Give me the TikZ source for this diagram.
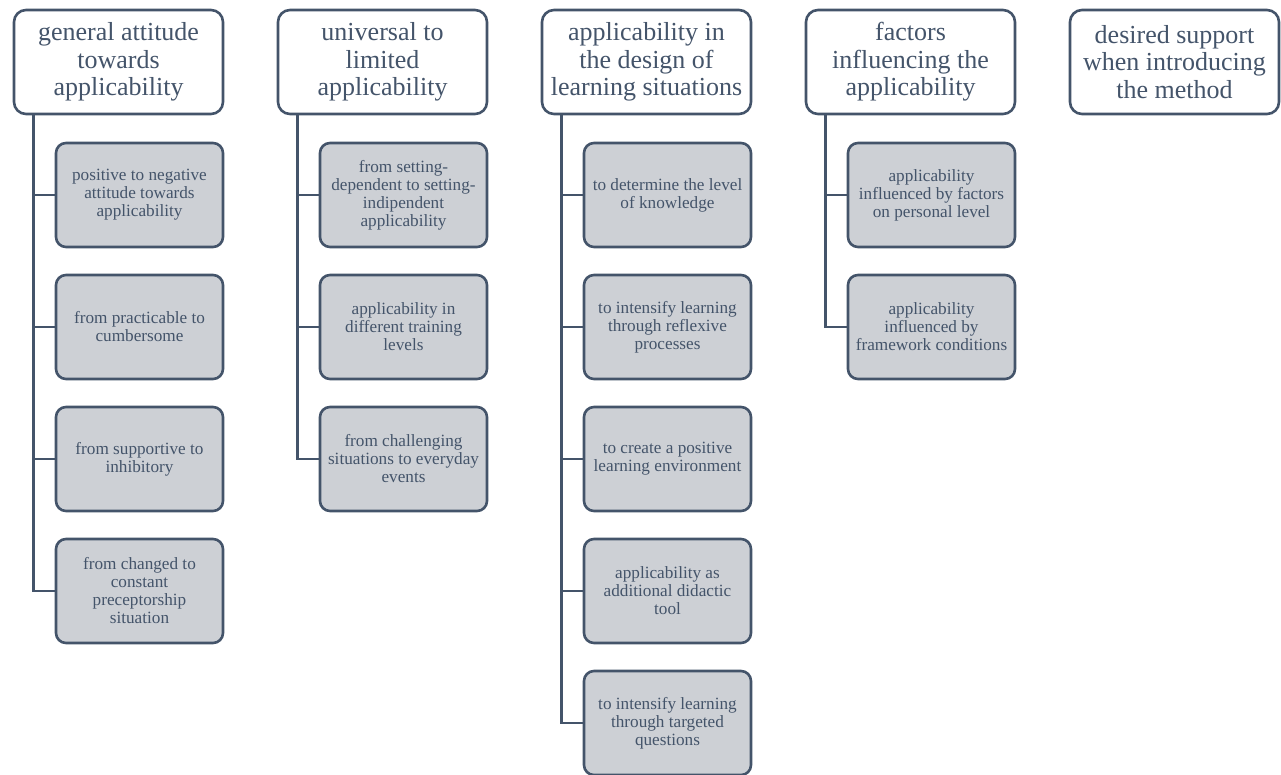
\documentclass[tikz,border=0pt]{standalone}
\usepackage{fontspec}
\setmainfont{Liberation Serif}
\usetikzlibrary{positioning}
\definecolor{slate}{HTML}{44546A}
\definecolor{boxgray}{RGB}{205,208,213}

\begin{document}
\begin{tikzpicture}[
    x=1pt, y=-1pt,
    head/.style={rectangle, rounded corners=12pt, draw=slate, line width=2.6pt, fill=white,
        text=slate, minimum width=209pt, minimum height=104pt, align=center,
        inner sep=2pt, font=\fontsize{26}{27.5}\selectfont},
    item/.style={rectangle, rounded corners=10pt, draw=slate, line width=2.6pt, fill=boxgray,
        text=slate, minimum width=167pt, minimum height=104pt, align=center,
        inner sep=2pt, font=\fontsize{17.2}{18}\selectfont},
    trunk/.style={draw=slate, line width=2.6pt}
]
\useasboundingbox (0,0) rectangle (1281,774);

% headings
\node[head] (h1) at (118.5,62) {general attitude\\towards\\applicability};
\node[head] (h2) at (382.5,62) {universal to\\limited\\applicability};
\node[head] (h3) at (646.5,62) {applicability in\\the design of\\learning situations};
\node[head] (h4) at (910.5,62) {factors\\influencing the\\applicability};
\node[head] (h5) at (1174.5,62) {desired support\\when introducing\\the method};

% column 1
\node[item] (a1) at (139.5,195) {positive to negative\\attitude towards\\applicability};
\node[item] (a2) at (139.5,327) {from practicable to\\cumbersome};
\node[item] (a3) at (139.5,459) {from supportive to\\inhibitory};
\node[item] (a4) at (139.5,591) {from changed to\\constant\\preceptorship\\situation};

% column 2
\node[item] (b1) at (403.5,195) {from setting-\\dependent to setting-\\indipendent\\applicability};
\node[item] (b2) at (403.5,327) {applicability in\\different training\\levels};
\node[item] (b3) at (403.5,459) {from challenging\\situations to everyday\\events};

% column 3
\node[item] (c1) at (667.5,195) {to determine the level\\of knowledge};
\node[item] (c2) at (667.5,327) {to intensify learning\\through reflexive\\processes};
\node[item] (c3) at (667.5,459) {to create a positive\\learning environment};
\node[item] (c4) at (667.5,591) {applicability as\\additional didactic\\tool};
\node[item] (c5) at (667.5,723) {to intensify learning\\through targeted\\questions};

% column 4
\node[item] (d1) at (931.5,195) {applicability\\influenced by factors\\on personal level};
\node[item] (d2) at (931.5,327) {applicability\\influenced by\\framework conditions};

% trunks
\draw[trunk] ([xshift=-85pt]h1.south) |- (a4.west);
\draw[trunk] ([xshift=-85pt]h1.south |- a1.west) -- (a1.west);
\draw[trunk] ([xshift=-85pt]h1.south |- a2.west) -- (a2.west);
\draw[trunk] ([xshift=-85pt]h1.south |- a3.west) -- (a3.west);

\draw[trunk] ([xshift=-85pt]h2.south) |- (b3.west);
\draw[trunk] ([xshift=-85pt]h2.south |- b1.west) -- (b1.west);
\draw[trunk] ([xshift=-85pt]h2.south |- b2.west) -- (b2.west);

\draw[trunk] ([xshift=-85pt]h3.south) |- (c5.west);
\draw[trunk] ([xshift=-85pt]h3.south |- c1.west) -- (c1.west);
\draw[trunk] ([xshift=-85pt]h3.south |- c2.west) -- (c2.west);
\draw[trunk] ([xshift=-85pt]h3.south |- c3.west) -- (c3.west);
\draw[trunk] ([xshift=-85pt]h3.south |- c4.west) -- (c4.west);

\draw[trunk] ([xshift=-85pt]h4.south) |- (d2.west);
\draw[trunk] ([xshift=-85pt]h4.south |- d1.west) -- (d1.west);
\end{tikzpicture}
\end{document}
